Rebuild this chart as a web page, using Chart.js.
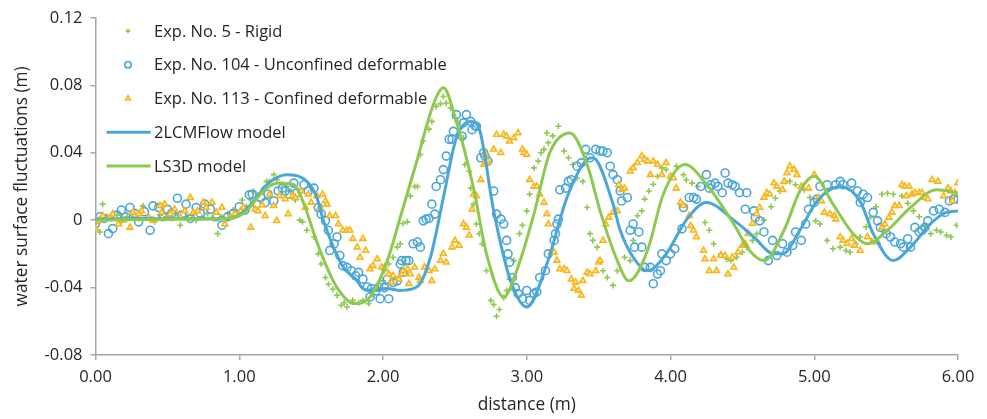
<!DOCTYPE html>
<html>
<head>
<meta charset="utf-8">
<script src="https://cdn.jsdelivr.net/npm/chart.js@4/dist/chart.umd.min.js"></script>
<style>
  body { margin: 0; background: #fff; }
  #wrap { width: 987px; height: 419px; }
</style>
</head>
<body>
<div id="wrap"><canvas id="myChart" width="987" height="419"></canvas></div>
<script>
// axis ticks
var xTicks = [0, 1, 2, 3, 4, 5, 6];
var yTicks = [-0.08, -0.04, 0, 0.04, 0.08, 0.12];

// Exp. No. 5 - Rigid  [distance, fluctuation]
var rigidPts = [
  [0.00,-0.002],[0.03,-0.007],[0.05,0.0095],[0.08,0.002],[0.11,0.001],[0.15,0.003],[0.18,-0.001],[0.22,0.002],
  [0.26,0.004],[0.30,0.001],[0.33,0.0085],[0.37,0.002],[0.41,-0.001],[0.45,0.003],[0.49,0.002],[0.53,0.001],
  [0.56,0.004],[0.59,-0.003],[0.63,0.002],[0.67,0.003],[0.70,0.0],[0.74,0.002],[0.78,0.004],[0.82,0.001],
  [0.85,-0.008],[0.88,0.002],[0.92,0.004],[0.96,0.006],[0.99,0.003],[1.02,0.012],[1.05,0.008],[1.08,0.012],
  [1.10,0.017],[1.13,0.015],[1.17,0.019],[1.19,0.023],[1.21,0.023],[1.24,0.027],[1.26,0.024],[1.30,0.021],
  [1.33,0.020],[1.36,0.017],[1.39,0.012],[1.42,0.0],[1.44,-0.001],[1.47,-0.006],[1.52,-0.010],[1.55,-0.020],
  [1.57,-0.026],[1.60,-0.034],[1.62,-0.038],[1.65,-0.041],[1.68,-0.0446],[1.71,-0.0505],[1.73,-0.049],[1.75,-0.0515],
  [1.79,-0.0476],[1.83,-0.049],[1.86,-0.0476],[1.90,-0.0495],[1.93,-0.044],[1.97,-0.040],[2.00,-0.036],[2.01,-0.030],
  [2.04,-0.026],[2.07,-0.022],[2.10,-0.016],[2.12,-0.014],[2.14,-0.002],[2.17,-0.001],[2.19,0.0144],[2.22,0.020],
  [2.24,0.020],[2.26,0.039],[2.28,0.047],[2.32,0.054],[2.34,0.0586],[2.37,0.0675],[2.40,0.069],[2.42,0.0734],
  [2.44,0.0695],[2.47,0.0665],[2.50,0.0606],[2.52,0.058],[2.54,0.0547],[2.56,0.0488],[2.57,0.033],[2.60,0.029],
  [2.61,0.019],[2.63,0.0095],[2.65,-0.0023],[2.67,-0.008],[2.69,-0.014],[2.72,-0.030],[2.75,-0.0476],[2.77,-0.050],
  [2.79,-0.057],[2.81,-0.053],[2.84,-0.046],[2.86,-0.0417],[2.88,-0.035],[2.91,-0.024],[2.95,-0.008],[2.97,-0.003],
  [3.00,0.0055],[3.02,0.0154],[3.05,0.031],[3.08,0.035],[3.10,0.040],[3.12,0.042],[3.14,0.0517],[3.15,0.046],
  [3.18,0.050],[3.22,0.0557],[3.26,0.041],[3.29,0.037],[3.32,0.033],[3.35,0.025],[3.39,0.023],[3.42,0.0075],
  [3.44,-0.008],[3.46,-0.012],[3.49,-0.016],[3.53,-0.030],[3.56,-0.034],[3.60,-0.0387],[3.63,-0.030],[3.68,-0.022],
  [3.72,-0.024],[3.74,-0.012],[3.77,0.0026],[3.80,0.0055],[3.82,0.0125],[3.85,0.0173],[3.88,0.0213],[3.91,0.026],
  [3.94,0.031],[3.97,0.030],[4.04,0.032],[4.09,0.027],[4.11,0.024],[4.15,0.022],[4.19,0.020],[4.24,-0.0014],
  [4.27,-0.006],[4.30,-0.014],[4.35,-0.020],[4.39,-0.023],[4.42,-0.024],[4.46,-0.022],[4.50,-0.019],[4.53,-0.016],
  [4.57,-0.012],[4.60,-0.008],[4.65,0.0],[4.70,0.008],[4.73,0.013],[4.76,0.0173],[4.80,0.023],[4.83,0.023],
  [4.87,0.021],[4.93,0.018],[4.97,0.0134],[5.01,-0.0004],[5.04,-0.0023],[5.09,-0.012],[5.13,-0.017],[5.18,-0.016],
  [5.22,-0.018],[5.25,-0.019],[5.29,-0.014],[5.32,-0.010],[5.36,-0.004],[5.39,0.0016],[5.43,0.008],[5.47,0.0154],
  [5.51,0.016],[5.55,0.0154],[5.61,0.0144],[5.65,0.010],[5.69,0.0055],[5.73,0.002],[5.77,-0.003],[5.81,-0.008],
  [5.85,-0.006],[5.88,-0.007],[5.92,-0.009],[5.95,-0.010],[5.99,-0.003]
];

// Exp. No. 104 - Unconfined deformable
var unconfinedPts = [
  [0.00,-0.002],[0.03,0.002],[0.06,0.001],[0.09,-0.008],[0.12,-0.005],[0.15,0.003],[0.18,0.006],[0.21,0.002],
  [0.24,0.0075],[0.27,0.004],[0.30,-0.001],[0.34,0.005],[0.38,-0.006],[0.40,0.0085],[0.44,0.0075],[0.47,0.002],
  [0.50,0.0065],[0.53,0.004],[0.57,0.013],[0.60,0.003],[0.63,0.0095],[0.66,0.001],[0.70,0.0075],[0.73,0.004],
  [0.76,0.0095],[0.80,0.0065],[0.84,0.002],[0.88,-0.003],[0.92,0.002],[0.96,0.004],[1.00,0.008],[1.04,0.006],
  [1.07,0.015],[1.09,0.0154],[1.12,0.0095],[1.15,0.0134],[1.18,0.0104],[1.20,0.0154],[1.24,0.0114],[1.27,0.0173],
  [1.30,0.019],[1.32,0.0173],[1.35,0.0154],[1.38,0.022],[1.40,0.0163],[1.45,0.021],[1.48,0.0173],[1.52,0.019],
  [1.55,0.0075],[1.57,0.0036],[1.60,-0.0004],[1.62,-0.006],[1.63,-0.018],[1.66,-0.014],[1.68,-0.010],[1.70,-0.021],
  [1.72,-0.027],[1.75,-0.028],[1.78,-0.030],[1.81,-0.033],[1.83,-0.031],[1.86,-0.035],[1.89,-0.0397],[1.91,-0.0456],
  [1.92,-0.0406],[1.95,-0.042],[1.97,-0.0397],[1.98,-0.0466],[2.01,-0.040],[2.03,-0.035],[2.04,-0.0466],[2.07,-0.037],
  [2.10,-0.036],[2.12,-0.026],[2.13,-0.024],[2.14,-0.031],[2.16,-0.024],[2.18,-0.024],[2.21,-0.014],[2.24,-0.013],
  [2.26,-0.016],[2.28,-0.0004],[2.30,0.0006],[2.32,0.001],[2.34,0.0095],[2.36,0.0036],[2.37,0.020],[2.40,0.024],
  [2.42,0.030],[2.44,0.038],[2.46,0.048],[2.48,0.048],[2.49,0.0527],[2.51,0.0626],[2.55,0.0498],[2.56,0.0577],
  [2.58,0.0626],[2.61,0.0586],[2.62,0.0537],[2.64,0.056],[2.65,0.0557],[2.68,0.037],[2.70,0.040],[2.71,0.038],
  [2.73,0.035],[2.77,0.0173],[2.79,0.0036],[2.82,0.0006],[2.84,-0.0023],[2.86,-0.012],[2.87,-0.020],[2.88,-0.025],
  [2.90,-0.034],[2.92,-0.040],[2.94,-0.0436],[2.97,-0.0466],[3.00,-0.0417],[3.02,-0.0476],[3.05,-0.0436],[3.07,-0.0426],
  [3.09,-0.034],[3.13,-0.030],[3.15,-0.020],[3.19,-0.012],[3.20,-0.008],[3.21,-0.0023],[3.22,0.0006],[3.23,0.018],
  [3.27,0.019],[3.29,0.023],[3.31,0.024],[3.35,0.032],[3.38,0.034],[3.41,0.042],[3.44,0.037],[3.48,0.042],
  [3.51,0.041],[3.53,0.041],[3.56,0.040],[3.58,0.032],[3.60,0.027],[3.63,0.024],[3.65,0.0173],[3.66,0.0114],
  [3.70,0.0134],[3.72,-0.006],[3.74,-0.0023],[3.75,-0.016],[3.78,-0.007],[3.80,-0.016],[3.82,-0.028],[3.86,-0.028],
  [3.88,-0.0377],[3.91,-0.032],[3.93,-0.030],[3.94,-0.020],[3.97,-0.024],[4.00,-0.020],[4.03,-0.017],[4.08,-0.0052],
  [4.09,0.0075],[4.13,0.0134],[4.16,0.0134],[4.18,0.0125],[4.21,0.020],[4.25,0.027],[4.27,0.019],[4.28,0.021],
  [4.31,0.022],[4.33,0.020],[4.36,0.0163],[4.38,0.028],[4.40,0.022],[4.43,0.021],[4.45,0.020],[4.48,0.0163],
  [4.52,0.0065],[4.53,0.0163],[4.58,0.0055],[4.59,0.0016],[4.62,-0.0004],[4.65,-0.007],[4.68,-0.024],[4.71,-0.012],
  [4.74,-0.021],[4.78,-0.014],[4.81,-0.019],[4.85,-0.015],[4.87,-0.007],[4.91,-0.012],[4.94,-0.0023],[4.96,0.0065],
  [5.00,0.0105],[5.02,0.0125],[5.04,0.020],[5.09,0.021],[5.15,0.021],[5.18,0.023],[5.20,0.021],[5.26,0.022],
  [5.30,0.0173],[5.32,0.0105],[5.34,0.0154],[5.37,0.0134],[5.41,0.0046],[5.44,-0.0004],[5.46,-0.0043],[5.50,-0.008],
  [5.53,-0.010],[5.56,-0.013],[5.60,-0.014],[5.62,-0.016],[5.65,-0.011],[5.67,-0.016],[5.70,-0.0043],[5.73,-0.007],
  [5.75,-0.006],[5.77,-0.0043],[5.79,-0.0004],[5.83,0.0055],[5.87,0.0065],[5.91,0.0046],[5.94,0.0114],[5.97,0.0125],
  [6.00,0.0125]
];

// Exp. No. 113 - Confined deformable
var confinedPts = [
  [0.00,-0.005],[0.02,-0.0004],[0.05,0.0026],[0.10,0.0016],[0.12,0.0036],[0.16,-0.0023],[0.19,0.0],[0.24,-0.0043],
  [0.26,0.0046],[0.30,0.0036],[0.32,0.0055],[0.37,0.0016],[0.40,0.0],[0.45,0.0085],[0.46,0.0046],[0.48,0.0095],
  [0.52,0.0036],[0.55,0.0065],[0.59,0.0016],[0.62,0.0055],[0.66,0.0134],[0.68,0.0046],[0.71,0.0055],[0.75,0.0105],
  [0.77,0.0075],[0.81,0.0105],[0.84,0.0046],[0.88,0.0075],[0.90,-0.0023],[0.94,0.0016],[0.97,0.0036],[1.01,0.0055],
  [1.03,0.0075],[1.08,-0.0043],[1.11,0.0065],[1.13,0.0055],[1.16,0.009],[1.18,0.0026],[1.21,0.0154],[1.24,0.0085],
  [1.26,-0.0004],[1.28,0.0144],[1.32,0.0125],[1.34,0.0036],[1.37,0.0144],[1.39,0.0134],[1.43,0.0173],[1.46,0.0075],
  [1.48,0.0154],[1.50,0.0105],[1.54,0.0144],[1.56,0.0075],[1.58,0.0154],[1.60,0.0114],[1.61,0.0095],[1.63,0.0026],
  [1.67,0.0026],[1.69,-0.0023],[1.72,-0.006],[1.75,-0.006],[1.77,-0.006],[1.79,-0.011],[1.82,-0.016],[1.84,-0.022],
  [1.86,-0.011],[1.88,-0.018],[1.91,-0.029],[1.93,-0.027],[1.96,-0.023],[1.99,-0.028],[2.01,-0.028],[2.04,-0.032],
  [2.06,-0.0368],[2.07,-0.033],[2.11,-0.035],[2.13,-0.032],[2.14,-0.030],[2.17,-0.029],[2.18,-0.0377],[2.19,-0.032],
  [2.22,-0.028],[2.25,-0.034],[2.26,-0.036],[2.29,-0.028],[2.32,-0.030],[2.34,-0.036],[2.36,-0.029],[2.40,-0.024],
  [2.42,-0.020],[2.44,-0.025],[2.48,-0.016],[2.50,-0.012],[2.53,-0.015],[2.56,-0.0023],[2.58,-0.0043],[2.60,-0.009],
  [2.62,0.0065],[2.63,0.0154],[2.65,0.0144],[2.68,0.024],[2.70,0.033],[2.71,0.040],[2.72,0.034],[2.73,0.035],
  [2.77,0.042],[2.79,0.0508],[2.82,0.040],[2.84,0.0508],[2.86,0.0498],[2.88,0.0468],[2.91,0.0488],[2.94,0.0517],
  [2.97,0.042],[2.98,0.040],[3.00,0.039],[3.02,0.024],[3.05,0.020],[3.07,0.020],[3.09,0.0154],[3.12,0.0105],
  [3.14,0.0036],[3.15,-0.0023],[3.17,-0.019],[3.19,-0.019],[3.21,-0.024],[3.23,-0.029],[3.26,-0.029],[3.28,-0.030],
  [3.31,-0.035],[3.33,-0.0406],[3.34,-0.0368],[3.36,-0.0417],[3.38,-0.0446],[3.39,-0.036],[3.42,-0.031],[3.44,-0.032],
  [3.48,-0.030],[3.50,-0.025],[3.51,-0.024],[3.53,-0.012],[3.55,-0.0023],[3.57,0.0016],[3.60,0.0046],[3.63,0.0055],
  [3.64,0.021],[3.66,0.018],[3.68,0.019],[3.72,0.029],[3.74,0.031],[3.77,0.034],[3.80,0.038],[3.82,0.036],
  [3.84,0.035],[3.86,0.027],[3.88,0.035],[3.91,0.033],[3.94,0.027],[3.97,0.034],[4.00,0.026],[4.02,0.025],
  [4.04,0.019],[4.07,0.0105],[4.09,0.0085],[4.13,0.0026],[4.14,-0.0033],[4.16,-0.006],[4.18,-0.010],[4.23,-0.018],
  [4.24,-0.023],[4.27,-0.030],[4.30,-0.023],[4.32,-0.030],[4.35,-0.021],[4.38,-0.021],[4.40,-0.032],[4.43,-0.022],
  [4.44,-0.028],[4.47,-0.019],[4.50,-0.015],[4.52,-0.014],[4.54,-0.008],[4.57,-0.002],[4.60,0.0036],[4.62,0.0075],
  [4.65,0.0134],[4.67,0.0163],[4.69,0.0154],[4.72,0.022],[4.74,0.020],[4.78,0.018],[4.79,0.023],[4.81,0.028],
  [4.83,0.032],[4.86,0.030],[4.88,0.027],[4.91,0.020],[4.96,0.019],[5.00,0.027],[5.03,0.0134],[5.05,0.0114],
  [5.07,0.0046],[5.11,0.0036],[5.14,0.0026],[5.15,0.0006],[5.18,-0.010],[5.20,-0.012],[5.23,-0.014],[5.26,-0.011],
  [5.28,-0.015],[5.32,-0.018],[5.37,-0.010],[5.40,-0.013],[5.44,-0.013],[5.47,-0.0043],[5.49,-0.0023],[5.52,0.0016],
  [5.54,0.0046],[5.56,0.0085],[5.59,0.0085],[5.61,0.021],[5.63,0.020],[5.64,0.0144],[5.66,0.020],[5.68,0.0154],
  [5.70,0.0163],[5.73,0.0163],[5.75,0.0163],[5.77,0.0134],[5.79,0.0125],[5.82,0.024],[5.86,0.023],[5.90,0.0144],
  [5.93,0.019],[5.95,0.0173],[5.96,0.0114],[5.98,0.0163],[6.00,0.022]
];

// 2LCMFlow model
var lcmPts = [
  [0.00,0.0005],[0.30,0.001],[0.60,0.0008],[0.90,0.001],[1.00,0.003],[1.10,0.011],[1.19,0.021],[1.33,0.027],
  [1.47,0.023],[1.54,0.0134],[1.585,0.0],[1.655,-0.016],[1.725,-0.028],[1.82,-0.036],[1.86,-0.0406],[1.93,-0.0417],
  [2.03,-0.0406],[2.12,-0.0417],[2.235,-0.0397],[2.33,-0.022],[2.42,0.0134],[2.51,0.0488],[2.61,0.0586],[2.67,0.054],
  [2.77,0.0055],[2.88,-0.034],[3.00,-0.0515],[3.14,-0.026],[3.28,0.0134],[3.42,0.036],[3.46,0.037],[3.60,0.0097],
  [3.65,-0.006],[3.74,-0.022],[3.84,-0.030],[3.97,-0.020],[4.11,0.0],[4.25,0.0105],[4.44,0.0],[4.58,-0.010],
  [4.72,-0.020],[4.78,-0.020],[4.90,-0.006],[5.02,0.0114],[5.18,0.020],[5.32,0.011],[5.41,-0.008],[5.55,-0.024],
  [5.67,-0.016],[5.81,-0.002],[5.92,0.0046],[6.00,0.0055]
];

// LS3D model
var ls3dPts = [
  [0.00,0.0],[0.50,0.0005],[0.90,0.001],[1.03,0.004],[1.19,0.019],[1.28,0.022],[1.38,0.021],[1.45,0.0097],
  [1.52,-0.008],[1.59,-0.024],[1.68,-0.040],[1.80,-0.0495],[1.91,-0.0456],[2.03,-0.024],[2.12,0.0016],[2.235,0.035],
  [2.35,0.0685],[2.42,0.0785],[2.51,0.0586],[2.63,0.019],[2.72,-0.020],[2.84,-0.0456],[2.93,-0.030],[3.05,0.0036],
  [3.16,0.040],[3.30,0.0517],[3.42,0.033],[3.51,0.0055],[3.63,-0.024],[3.71,-0.036],[3.84,-0.018],[3.95,0.0154],
  [4.10,0.033],[4.25,0.0213],[4.44,-0.0023],[4.55,-0.018],[4.65,-0.024],[4.79,-0.006],[4.90,0.0173],[5.00,0.026],
  [5.13,0.0095],[5.27,-0.008],[5.37,-0.014],[5.51,-0.006],[5.67,0.0075],[5.85,0.018],[6.00,0.016]
];

var blue = '#4BA6D8';
var green = '#8DC94E';
var orange = '#F7B61B';
var textColor = '#262626';
var axisColor = '#A6A6A6';
var fontName = '"Open Sans", sans-serif';

function toXY(pts) {
  return pts.map(function (p) { return { x: p[0], y: p[1] }; });
}

// legend drawn inside the plot, top-left (like the Excel original)
var insideLegend = {
  id: 'insideLegend',
  afterDraw: function (chart) {
    var ctx = chart.ctx;
    var a = chart.chartArea;
    ctx.save();
    ctx.font = '16.5px ' + fontName;
    ctx.textBaseline = 'middle';
    ctx.textAlign = 'left';
    chart.data.datasets.forEach(function (ds, i) {
      var y = a.top + 13 + i * 33.8;
      var mx = a.left + 32.5;
      ctx.strokeStyle = ds.borderColor;
      ctx.fillStyle = ds.backgroundColor;
      if (ds.showLine) {
        ctx.lineWidth = 3;
        ctx.beginPath();
        ctx.moveTo(a.left + 11, y);
        ctx.lineTo(a.left + 55, y);
        ctx.stroke();
      } else {
        ctx.lineWidth = ds.pointBorderWidth;
        Chart.helpers.drawPoint(ctx, {
          pointStyle: ds.pointStyle, radius: ds.legendRadius, rotation: 0, borderWidth: ds.pointBorderWidth
        }, mx, y);
      }
      ctx.fillStyle = textColor;
      ctx.fillText(ds.label, a.left + 58.5, y + 1);
    });
    ctx.restore();
  }
};

var ctx = document.getElementById('myChart').getContext('2d');
var myChart = new Chart(ctx, {
  type: 'scatter',
  data: {
    datasets: [{
      label: 'Exp. No. 5 - Rigid',
      data: toXY(rigidPts),
      pointStyle: 'cross',
      pointRadius: 3,
      legendRadius: 2.4,
      pointBorderWidth: 1.6,
      borderColor: green,
      backgroundColor: green,
      order: 5
    }, {
      label: 'Exp. No. 104 - Unconfined deformable',
      data: toXY(unconfinedPts),
      pointStyle: 'circle',
      pointRadius: 4,
      legendRadius: 3.2,
      pointBorderWidth: 1.6,
      borderColor: blue,
      backgroundColor: 'rgba(255,255,255,0)',
      order: 4
    }, {
      label: 'Exp. No. 113 - Confined deformable',
      data: toXY(confinedPts),
      pointStyle: 'triangle',
      pointRadius: 3.4,
      legendRadius: 3,
      pointBorderWidth: 1.6,
      borderColor: orange,
      backgroundColor: '#FDEDBE',
      order: 3
    }, {
      label: '2LCMFlow model',
      data: toXY(lcmPts),
      showLine: true,
      pointRadius: 0,
      borderWidth: 3,
      borderColor: blue,
      backgroundColor: blue,
      cubicInterpolationMode: 'monotone',
      order: 2
    }, {
      label: 'LS3D model',
      data: toXY(ls3dPts),
      showLine: true,
      pointRadius: 0,
      borderWidth: 3,
      borderColor: green,
      backgroundColor: green,
      cubicInterpolationMode: 'monotone',
      order: 1
    }]
  },
  options: {
    responsive: false,
    animation: false,
    devicePixelRatio: 1,
    layout: { padding: { left: 0, right: 29, top: 16, bottom: 0 } },
    plugins: {
      legend: { display: false },
      tooltip: { enabled: false }
    },
    scales: {
      x: {
        type: 'linear',
        min: 0,
        max: 6,
        afterBuildTicks: function (scale) {
          scale.ticks = xTicks.map(function (v) { return { value: v }; });
        },
        afterFit: function (scale) { scale.height = 64; },
        border: { color: axisColor, width: 1.5 },
        grid: { drawOnChartArea: false, drawTicks: true, tickLength: 5, color: axisColor, lineWidth: 1.5 },
        ticks: {
          color: textColor,
          font: { family: fontName, size: 16.5 },
          padding: 7,
          maxRotation: 0,
          callback: function (v) { return Number(v).toFixed(2); }
        },
        title: {
          display: true,
          text: 'distance (m)',
          color: textColor,
          font: { family: fontName, size: 17.3 },
          padding: { top: 0, bottom: 3.5 }
        }
      },
      y: {
        type: 'linear',
        min: -0.08,
        max: 0.12,
        afterBuildTicks: function (scale) {
          scale.ticks = yTicks.map(function (v) { return { value: v }; });
        },
        afterFit: function (scale) { scale.width = 95.5; },
        border: { color: axisColor, width: 1.5 },
        grid: { drawOnChartArea: false, drawTicks: true, tickLength: 5, color: axisColor, lineWidth: 1.5 },
        ticks: {
          color: textColor,
          font: { family: fontName, size: 16.5 },
          padding: 8,
          callback: function (v) { return Math.abs(v) < 1e-9 ? '0' : Number(v).toFixed(2); }
        },
        title: {
          display: true,
          text: 'water surface fluctuations (m)',
          color: textColor,
          font: { family: fontName, size: 17.3 },
          padding: { top: 12, bottom: 0 }
        }
      }
    }
  },
  plugins: [insideLegend]
});
</script>
</body>
</html>
